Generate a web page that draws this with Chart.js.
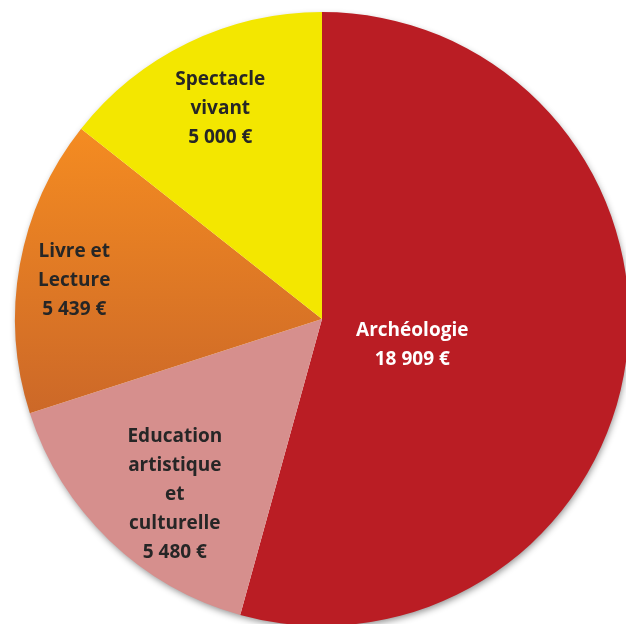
<!DOCTYPE html>
<html>
<head>
<meta charset="utf-8">
<script src="https://cdn.jsdelivr.net/npm/chart.js@4"></script>
<style>
  html, body { margin: 0; padding: 0; background: #fff; overflow: hidden; }
  #wrap { width: 626px; height: 624px; overflow: hidden; position: relative; }
  canvas { position: absolute; left: 0; top: 0; }
</style>
</head>
<body>
<div id="wrap"><canvas id="pie" width="644" height="638"></canvas></div>
<script>
// données
const categories = ['Archéologie', 'Education artistique et culturelle', 'Livre et Lecture', 'Spectacle vivant'];
const montants = [18909, 5480, 5439, 5000];
const etiquettes = [
    ['Archéologie', '18 909 €'],
    ['Education', 'artistique', 'et', 'culturelle', '5 480 €'],
    ['Livre et', 'Lecture', '5 439 €'],
    ['Spectacle', 'vivant', '5 000 €']
];

const RAYON = 307;

// placement des étiquettes (fraction du rayon + décalage)
const labelPos = [
    { r: 0.30, dx: -1, dy: 14 },
    { r: 0.74, dx: 10, dy: 12 },
    { r: 0.81, dx: -3, dy: 6 },
    { r: 0.76, dx: 0, dy: 0 }
];
const labelColors = ['#ffffff', '#262626', '#262626', '#262626'];

function orangeFill(context) {
    const area = context.chart.chartArea;
    if (!area) return '#E57A25';
    const cy = (area.top + area.bottom) / 2;
    const g = context.chart.ctx.createLinearGradient(0, cy - 0.63 * RAYON, 0, cy + 0.31 * RAYON);
    g.addColorStop(0, '#F58C21');
    g.addColorStop(1, '#CC6828');
    return g;
}

const shadowPlugin = {
    id: 'ombre',
    beforeDatasetsDraw(chart) {
        const arc = chart.getDatasetMeta(0).data[0];
        if (!arc) return;
        const ctx = chart.ctx;
        ctx.save();
        ctx.shadowColor = 'rgba(0,0,0,0.45)';
        ctx.shadowBlur = 7;
        ctx.shadowOffsetX = 1;
        ctx.shadowOffsetY = 3;
        ctx.fillStyle = '#ffffff';
        ctx.beginPath();
        ctx.arc(arc.x, arc.y, arc.outerRadius - 1, 0, Math.PI * 2);
        ctx.fill();
        ctx.restore();
    }
};

const labelsPlugin = {
    id: 'etiquettes',
    afterDatasetsDraw(chart) {
        const ctx = chart.ctx;
        const meta = chart.getDatasetMeta(0);
        const lh = 29;
        ctx.save();
        ctx.font = 'bold 19px "Open Sans", sans-serif';
        ctx.textAlign = 'center';
        ctx.textBaseline = 'middle';
        meta.data.forEach(function (arc, i) {
            const mid = (arc.startAngle + arc.endAngle) / 2;
            const p = labelPos[i];
            const x = arc.x + Math.cos(mid) * arc.outerRadius * p.r + p.dx;
            const y = arc.y + Math.sin(mid) * arc.outerRadius * p.r + p.dy;
            const lines = etiquettes[i];
            const top = y - (lines.length - 1) * lh / 2;
            ctx.fillStyle = labelColors[i];
            lines.forEach(function (t, k) {
                ctx.fillText(t, x, top + k * lh);
            });
        });
        ctx.restore();
    }
};

const ctx = document.getElementById('pie').getContext('2d');
const chart = new Chart(ctx, {
    type: 'pie',
    data: {
        labels: categories,
        datasets: [{
            data: montants,
            backgroundColor: function (context) {
                const cols = ['#BA1D24', '#D68F8D', null, '#F3E700'];
                if (context.dataIndex === 2) return orangeFill(context);
                return cols[context.dataIndex];
            },
            borderWidth: 0
        }]
    },
    options: {
        responsive: false,
        animation: false,
        radius: RAYON,
        layout: { padding: 0 },
        plugins: {
            legend: { display: false },
            tooltip: { enabled: false }
        }
    },
    plugins: [shadowPlugin, labelsPlugin]
});
</script>
</body>
</html>
